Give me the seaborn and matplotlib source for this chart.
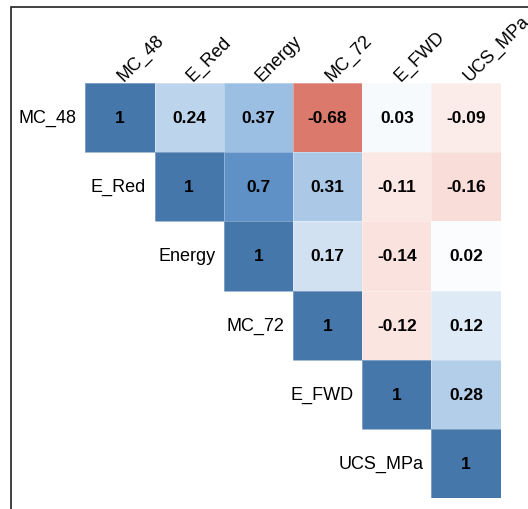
import numpy as np
import pandas as pd
import matplotlib.pyplot as plt
import seaborn as sns
from matplotlib.colors import LinearSegmentedColormap
from matplotlib.patches import Rectangle

labels = ['MC_48', 'E_Red', 'Energy', 'MC_72', 'E_FWD', 'UCS_MPa']

# upper triangle rows of the correlation matrix
mc_48 = [1, 0.24, 0.37, -0.68, 0.03, -0.09]
e_red = [1, 0.7, 0.31, -0.11, -0.16]
energy = [1, 0.17, -0.14, 0.02]
mc_72 = [1, -0.12, 0.12]
e_fwd = [1, 0.28]
ucs_mpa = [1]

rows = [mc_48, e_red, energy, mc_72, e_fwd, ucs_mpa]
n = len(labels)
corr = np.full((n, n), np.nan)
for i, r in enumerate(rows):
    corr[i, i:] = r
    corr[i:, i] = r
df = pd.DataFrame(corr, index=labels, columns=labels)

mask = np.tril(np.ones((n, n), dtype=bool), k=-1)
annot = np.array([[f'{v:g}' for v in row] for row in corr])

cmap = LinearSegmentedColormap.from_list('rb', [
    (0.0, '#C94B3E'),
    (0.16, '#DC7A6E'),
    (0.42, '#F9DDD8'),
    (0.5, '#FFFFFF'),
    (0.62, '#BDD5EC'),
    (0.685, '#9BBFE3'),
    (0.85, '#5F90C6'),
    (1.0, '#4577AA'),
])

plt.rcParams['font.family'] = ['Liberation Sans', 'DejaVu Sans']

fig = plt.figure(figsize=(5.28, 5.10), dpi=100)
ax = fig.add_axes([85.3 / 528, 1 - 499 / 510, 415.4 / 528, 415 / 510])

sns.heatmap(df, mask=mask, cmap=cmap, vmin=-1, vmax=1, annot=annot, fmt='',
            annot_kws={'fontsize': 12.5, 'fontweight': 'bold', 'color': 'black'},
            cbar=False, square=False, linewidths=0.6, linecolor=(1, 1, 1, 0.3),
            ax=ax)

ax.xaxis.tick_top()
ax.set_xticks(np.arange(n) + 0.55)
ax.set_xticklabels(labels, rotation=45, ha='left', va='baseline',
                   rotation_mode='anchor', fontsize=13)
ax.tick_params(axis='x', length=0, pad=1.5)
ax.set_yticks([])
ax.set_xlabel('')
ax.set_ylabel('')
for s in ax.spines.values():
    s.set_visible(False)

# row labels sit to the left of each diagonal cell
for i, lab in enumerate(labels):
    ax.text(i - 0.12, i + 0.5, lab, ha='right', va='center', fontsize=13)

fig.add_artist(Rectangle((11 / 528, -0.2), 2.0, 1.2 - 8 / 510,
                         transform=fig.transFigure, fill=False,
                         edgecolor='#222222', linewidth=1.2, clip_on=False))

fig.savefig('out.png', dpi=100)
